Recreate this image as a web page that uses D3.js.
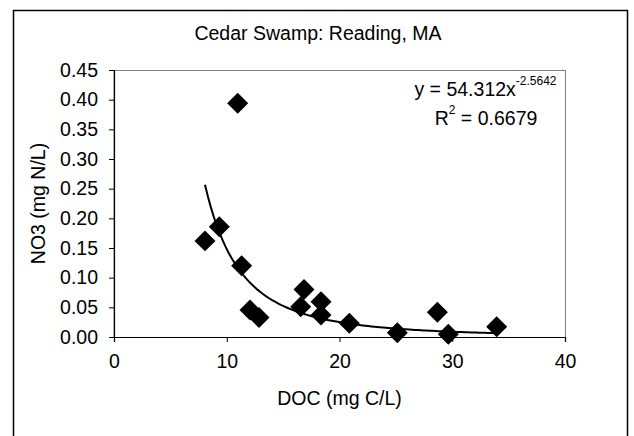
<!DOCTYPE html>
<html>
<head>
<meta charset="utf-8">
<script src="https://cdn.jsdelivr.net/npm/d3@7"></script>
<style>
  html, body { margin: 0; padding: 0; background: #fff; }
  svg { display: block; }
  text { font-family: "Liberation Sans", Arial, sans-serif; fill: #000; }
</style>
</head>
<body>
<svg id="chart" width="634" height="436"></svg>
<script>
// ---- data ----
const title = "Cedar Swamp: Reading, MA";
const xLabel = "DOC (mg C/L)";
const yLabel = "NO3 (mg N/L)";
const doc = [8.07, 9.34, 10.97, 11.32, 12.06, 12.86, 16.56, 16.85, 18.36, 18.36, 20.87, 25.13, 28.68, 29.65, 33.94];
const no3 = [0.162, 0.186, 0.394, 0.120, 0.0455, 0.033, 0.051, 0.080, 0.0595, 0.037, 0.023, 0.007, 0.0416, 0.0045, 0.0174];
const xTicks = [0, 10, 20, 30, 40];
const yTicks = [0, 0.05, 0.10, 0.15, 0.20, 0.25, 0.30, 0.35, 0.40, 0.45];
const trendCoef = 54.312;
const trendExp = -2.5642;
const eqMain = "y = 54.312x";
const eqSup = "-2.5642";
const r2Text = " = 0.6679";

// ---- layout ----
const svg = d3.select("#chart");
const plot = { left: 114, right: 565, top: 70, bottom: 337 };
const fs = 19.5;

const x = d3.scaleLinear().domain([0, 40]).range([plot.left, plot.right]);
const y = d3.scaleLinear().domain([0, 0.45]).range([plot.bottom, plot.top]);

// outer frame
svg.append("path")
  .attr("d", `M13.5,436 L13.5,10.5 L627.5,10.5 L627.5,436`)
  .attr("fill", "none").attr("stroke", "#000").attr("stroke-width", 1.5);

// plot area border (gray top/right)
svg.append("rect")
  .attr("x", plot.left).attr("y", plot.top + 0.5)
  .attr("width", plot.right - plot.left + 0.5).attr("height", plot.bottom - plot.top)
  .attr("fill", "#fff").attr("stroke", "#808080").attr("stroke-width", 1);

// title
svg.append("text")
  .attr("x", 318).attr("y", 40)
  .attr("text-anchor", "middle").attr("font-size", fs)
  .text(title);

// axes
const xAxis = d3.axisBottom(x).tickValues(xTicks).tickSize(5).tickPadding(12).tickFormat(d3.format("d"));
const gx = svg.append("g").attr("transform", `translate(0,${plot.bottom})`).call(xAxis);
gx.select(".domain").attr("stroke", "#000").attr("stroke-width", 1.2);
gx.selectAll(".tick line").attr("stroke", "#000");
gx.selectAll(".tick text").attr("font-size", fs).attr("font-family", "Liberation Sans, Arial, sans-serif").attr("fill", "#000").attr("dy", "0.71em");

const yAxis = d3.axisLeft(y).tickValues(yTicks).tickSize(5).tickPadding(11).tickFormat(d3.format(".2f"));
const gy = svg.append("g").attr("transform", `translate(${plot.left},0)`).call(yAxis);
gy.select(".domain").attr("stroke", "#000").attr("stroke-width", 1.2);
gy.selectAll(".tick line").attr("stroke", "#000");
gy.selectAll(".tick text").attr("font-size", fs).attr("font-family", "Liberation Sans, Arial, sans-serif").attr("fill", "#000");

// axis titles
svg.append("text")
  .attr("x", (plot.left + plot.right) / 2).attr("y", 405)
  .attr("text-anchor", "middle").attr("font-size", fs)
  .text(xLabel);
svg.append("text")
  .attr("transform", `translate(45,${(plot.top + plot.bottom) / 2}) rotate(-90)`)
  .attr("text-anchor", "middle").attr("font-size", fs)
  .text(yLabel);

// trendline (power fit as displayed)
const xmin = d3.min(doc), xmax = d3.max(doc);
const trendX = d3.range(0, 101).map(i => xmin + (xmax - xmin) * i / 100);
const line = d3.line().x(d => x(d)).y(d => y(trendCoef * Math.pow(d, trendExp)));
svg.append("path")
  .datum(trendX)
  .attr("d", line)
  .attr("fill", "none").attr("stroke", "#000").attr("stroke-width", 2);

// markers (diamonds)
const pts = doc.map((d, i) => [d, no3[i]]);
const sym = d3.symbol().type(d3.symbolSquare).size(220);
svg.append("g").selectAll("path")
  .data(pts).join("path")
  .attr("d", sym)
  .attr("transform", d => `translate(${x(d[0])},${y(d[1])}) rotate(45)`)
  .attr("fill", "#000");

// equation labels
const eq = svg.append("text")
  .attr("x", 485.5).attr("y", 96)
  .attr("text-anchor", "middle").attr("font-size", fs);
eq.append("tspan").text(eqMain);
eq.append("tspan").attr("font-size", 12).attr("dy", -11).text(eqSup);

const r2 = svg.append("text")
  .attr("x", 486).attr("y", 125)
  .attr("text-anchor", "middle").attr("font-size", fs);
r2.append("tspan").text("R");
r2.append("tspan").attr("font-size", 12).attr("dy", -11).text("2");
r2.append("tspan").attr("dy", 11).text(r2Text);
</script>
</body>
</html>
